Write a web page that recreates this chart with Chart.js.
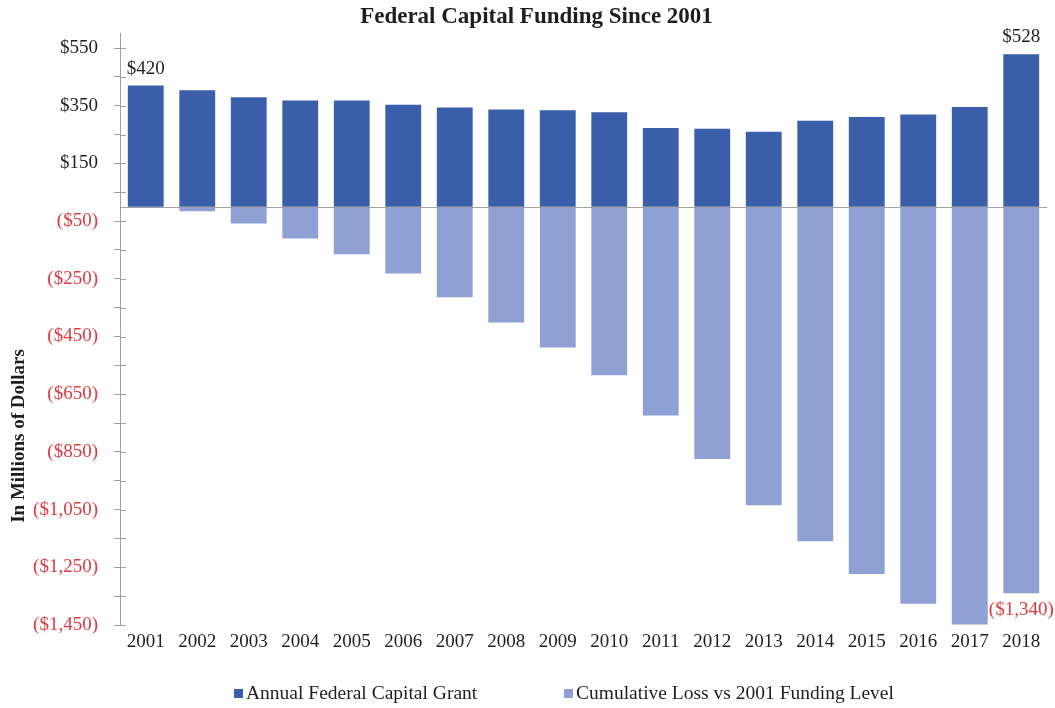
<!DOCTYPE html>
<html>
<head>
<meta charset="utf-8">
<script src="https://cdn.jsdelivr.net/npm/chart.js@4.4.1/dist/chart.umd.min.js"></script>
<style>
  html, body { margin: 0; padding: 0; background: #ffffff; }
  #wrap { width: 1055px; height: 708px; position: relative; }
</style>
</head>
<body>
<div id="wrap"><canvas id="c"></canvas></div>
<script>
// ---- data ----
const years = ['2001','2002','2003','2004','2005','2006','2007','2008','2009','2010','2011','2012','2013','2014','2015','2016','2017','2018'];
const annualGrant = [420, 404, 379, 368, 368, 353, 344, 337, 334, 327, 273, 270, 260, 298, 311, 320, 346, 528];
const cumulativeLoss = [0, -16, -58, -110, -165, -232, -314, -401, -488, -584, -724, -875, -1035, -1160, -1273, -1376, -1448, -1340];
const grantLabelIndices = [0, 17];
const lossLabelIndices = [17];
const seriesNames = ['Annual Federal Capital Grant', 'Cumulative Loss vs 2001 Funding Level'];
const chartTitle = 'Federal Capital Funding Since 2001';
const yAxisTitle = 'In Millions of Dollars';
const yMin = -1450, yMax = 600, yStep = 100, yLabelStep = 200, yLabelTop = 550;

const SERIF = "'Liberation Serif', 'Times New Roman', serif";
const DARK = '#3B5EAB';
const LIGHT = '#8EA0D4';
const RED = '#E0393E';
const TXT = '#1e1e1e';
const AXIS = '#a0a0a0';

function money(v) {
  const s = '$' + Math.abs(Math.round(v)).toLocaleString('en-US');
  return v < 0 ? '(' + s + ')' : s;
}

const extras = {
  id: 'extras',
  afterDatasetsDraw(chart) {
    const {ctx, chartArea} = chart;
    const y = chart.scales.y;
    // zero line
    const y0 = Math.round(y.getPixelForValue(0)) + 0.5;
    ctx.save();
    ctx.strokeStyle = AXIS;
    ctx.lineWidth = 1;
    ctx.beginPath();
    ctx.moveTo(chartArea.left, y0);
    ctx.lineTo(chartArea.right, y0);
    ctx.stroke();
    // inner tick marks (cross the axis)
    ctx.beginPath();
    y.ticks.forEach(t => {
      const py = Math.round(y.getPixelForValue(t.value)) + 0.5;
      ctx.moveTo(chartArea.left, py);
      ctx.lineTo(chartArea.left + 6, py);
    });
    ctx.stroke();
    // data labels
    ctx.font = '19px ' + SERIF;
    ctx.textAlign = 'center';
    ctx.textBaseline = 'middle';
    const m0 = chart.getDatasetMeta(0), m1 = chart.getDatasetMeta(1);
    ctx.fillStyle = TXT;
    grantLabelIndices.forEach(i => {
      const b = m0.data[i];
      ctx.fillText(money(annualGrant[i]), b.x, b.y - 17);
    });
    ctx.fillStyle = RED;
    lossLabelIndices.forEach(i => {
      const b = m1.data[i];
      ctx.fillText(money(cumulativeLoss[i]), b.x, b.y + 17);
    });
    ctx.restore();
  },
  afterDraw(chart) {
    const {ctx} = chart;
    ctx.save();
    // y axis title
    ctx.font = 'bold 19px ' + SERIF;
    ctx.fillStyle = TXT;
    ctx.textAlign = 'center';
    ctx.textBaseline = 'middle';
    ctx.translate(19, 436);
    ctx.rotate(-Math.PI / 2);
    ctx.fillText(yAxisTitle, 0, 0);
    ctx.restore();
    // legend
    ctx.save();
    ctx.font = '19.5px ' + SERIF;
    ctx.textBaseline = 'middle';
    ctx.textAlign = 'left';
    const items = [
      {x: 234, color: chart.data.datasets[0].backgroundColor, text: chart.data.datasets[0].label},
      {x: 564, color: chart.data.datasets[1].backgroundColor, text: chart.data.datasets[1].label}
    ];
    const ly = 694;
    items.forEach(it => {
      ctx.fillStyle = it.color;
      ctx.fillRect(it.x, ly - 5, 9, 9);
      ctx.fillStyle = TXT;
      ctx.fillText(it.text, it.x + 12, ly);
    });
    ctx.restore();
  }
};

new Chart(document.getElementById('c'), {
  type: 'bar',
  data: {
    labels: years,
    datasets: [
      { label: seriesNames[0], data: annualGrant, backgroundColor: DARK, borderWidth: 0 },
      { label: seriesNames[1], data: cumulativeLoss, backgroundColor: LIGHT, borderWidth: 0 }
    ]
  },
  options: {
    responsive: true,
    maintainAspectRatio: false,
    animation: false,
    events: [],
    layout: { padding: { left: 26, right: 8, top: 0, bottom: 53 } },
    datasets: { bar: { categoryPercentage: 0.8, barPercentage: 0.87 } },
    plugins: {
      legend: { display: false },
      tooltip: { enabled: false },
      title: {
        display: true,
        text: chartTitle,
        color: TXT,
        font: { family: SERIF, size: 23, weight: 'bold' },
        padding: { top: 3, bottom: 3 }
      }
    },
    scales: {
      x: {
        stacked: true,
        grid: { display: false, drawTicks: false },
        border: { display: false },
        ticks: { color: TXT, font: { family: SERIF, size: 19 }, padding: 6, maxRotation: 0, autoSkip: false },
        afterFit(s) { s.height = 30; }
      },
      y: {
        stacked: true,
        min: yMin,
        max: yMax,
        afterBuildTicks(s) {
          const t = [];
          for (let v = yMin; v <= yLabelTop; v += yStep) t.push({ value: v });
          s.ticks = t;
        },
        afterFit(s) { s.width = 94; },
        grid: { drawOnChartArea: false, drawTicks: true, tickLength: 6, color: AXIS, tickColor: AXIS },
        border: { display: true, color: AXIS },
        ticks: {
          autoSkip: false,
          padding: 16,
          font: { family: SERIF, size: 19 },
          color: (c) => (c.tick && c.tick.value < 0) ? RED : TXT,
          callback: (v) => ((Math.round(v) - yMin) % yLabelStep === 0) ? money(v) : ''
        }
      }
    }
  },
  plugins: [extras]
});
</script>
</body>
</html>
